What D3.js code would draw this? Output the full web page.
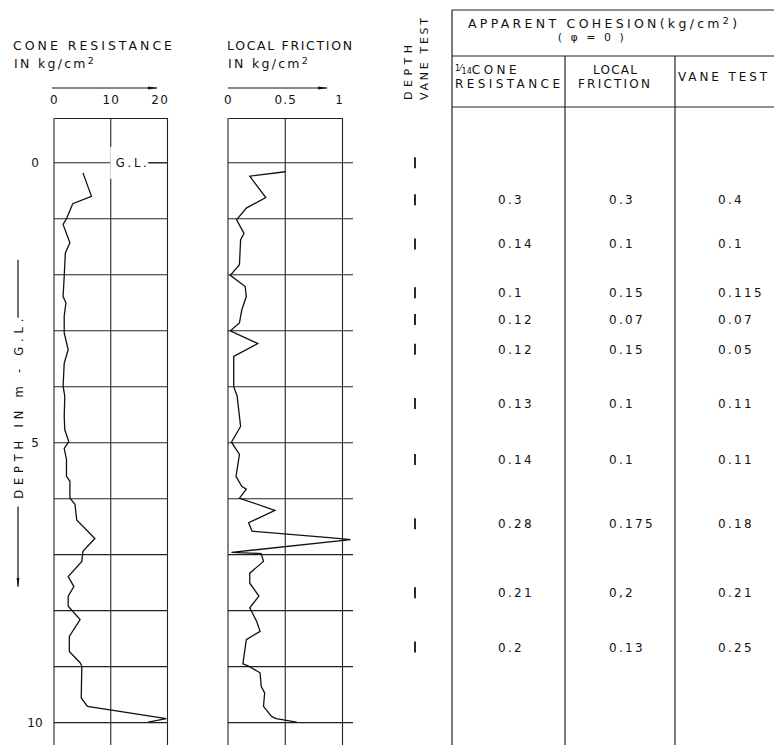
<!DOCTYPE html>
<html>
<head>
<meta charset="utf-8">
<script src="https://cdn.jsdelivr.net/npm/d3@7"></script>
<style>
  body { margin: 0; background: #fff; }
  svg text { font-family: "DejaVu Sans", sans-serif; fill: #111; }
</style>
</head>
<body>
<script>
// Static cone penetration log: cone resistance + local friction profiles
// and a small table of apparent cohesion at the vane test depths

// cone resistance profile (depth in m below G.L., value in kg/cm2)
const coneDepth = [0.18, 0.6, 0.73, 1.0, 1.1, 1.43, 1.61, 2.03, 2.39, 2.5, 2.74, 3.04, 3.34, 3.58,
  3.99, 4.17, 4.53, 4.77, 4.98, 5.1, 5.3, 5.6, 5.69, 5.99, 6.1, 6.38, 6.71, 6.94, 7.12, 7.39,
  7.57, 7.74, 7.92, 8.16, 8.46, 8.73, 8.93, 8.99, 9.56, 9.71, 9.93, 9.99];
const coneValue = [5.1, 6.6, 3.3, 2.2, 1.6, 2.8, 2.0, 1.8, 1.6, 2.1, 1.8, 1.8, 2.5, 1.8,
  1.6, 1.9, 1.8, 1.9, 2.6, 1.8, 2.2, 2.2, 2.8, 2.8, 3.7, 4.0, 7.2, 5.1, 4.9, 2.5,
  3.5, 2.5, 2.5, 4.6, 2.7, 2.7, 4.6, 4.9, 4.8, 5.9, 19.8, 16.6];

// local friction profile (depth in m, value in kg/cm2)
const frictionDepth = [0.16, 0.24, 0.62, 0.81, 1.02, 1.26, 1.38, 1.82, 2.01, 2.21, 2.39, 2.63,
  2.86, 3.0, 3.23, 3.46, 4.0, 4.17, 4.35, 4.71, 4.99, 5.21, 5.6, 5.78, 5.83, 5.99, 6.21, 6.43,
  6.58, 6.7, 6.73, 6.96, 6.98, 7.12, 7.33, 7.51, 7.74, 7.95, 8.19, 8.37, 8.52, 8.95, 8.99,
  9.11, 9.35, 9.47, 9.71, 9.89, 9.93, 9.99];
const frictionValue = [0.5, 0.19, 0.33, 0.16, 0.075, 0.14, 0.11, 0.10, 0.02, 0.15, 0.16, 0.12,
  0.10, 0.02, 0.26, 0.05, 0.05, 0.08, 0.09, 0.11, 0.03, 0.10, 0.07, 0.12, 0.16, 0.10, 0.41, 0.18,
  0.21, 0.91, 1.07, 0.03, 0.29, 0.31, 0.19, 0.19, 0.27, 0.19, 0.25, 0.28, 0.16, 0.13, 0.18,
  0.28, 0.29, 0.32, 0.31, 0.38, 0.42, 0.6];

// vane test depths and apparent cohesion (first mark at G.L. has no readings)
const vaneDepth = [0, 0.66, 1.45, 2.32, 2.8, 3.33, 4.3, 5.3, 6.45, 7.68, 8.65];
const cohesionCone = [null, "0.3", "0.14", "0.1", "0.12", "0.12", "0.13", "0.14", "0.28", "0.21", "0.2"];
const cohesionFriction = [null, "0.3", "0.1", "0.15", "0.07", "0.15", "0.1", "0.1", "0.175", "0,2", "0.13"];
const cohesionVane = [null, "0.4", "0.1", "0.115", "0.07", "0.05", "0.11", "0.11", "0.18", "0.21", "0.25"];

// tick labels
const coneTicks = [0, 10, 20];
const frictionTicks = [0, 0.5, 1];
const depthTicks = [0, 5, 10];
const gridDepths = d3.range(0, 11);

const width = 774, height = 745;
let svg = null;
let y, xCone, xFric;

appendSvg("body");
setupScales();
appendArrowMarker();
appendProfileChart(xCone, coneTicks, coneDepth, coneValue, 167, d3.format("d"));
appendProfileChart(xFric, frictionTicks, frictionDepth, frictionValue, 353, d => d === 0.5 ? "0.5" : d);
appendGroundLevelLabel();
appendTitles();
appendDepthAxis();
appendVaneMarks();
appendTable();

function appendSvg(domElement) {
  svg = d3.select(domElement).append("svg")
    .attr("width", width)
    .attr("height", height);
}

function setupScales() {
  // 1 m of depth = 56 px, G.L. at y = 163
  y = d3.scaleLinear().domain([-0.8, 10.4]).range([118, 745]);
  xCone = d3.scaleLinear().domain([0, 20]).range([54, 167.5]);
  xFric = d3.scaleLinear().domain([0, 1]).range([228, 342.5]);
}

function appendArrowMarker() {
  const defs = svg.append("defs");
  defs.append("marker")
    .attr("id", "arrow")
    .attr("viewBox", "0 0 10 6")
    .attr("refX", 9).attr("refY", 3)
    .attr("markerWidth", 10).attr("markerHeight", 6)
    .attr("markerUnits", "userSpaceOnUse")
    .attr("orient", "auto")
    .append("path")
    .attr("d", "M0,1.5 L10,3 L0,4.5 Z")
    .attr("fill", "#111");
}

function appendProfileChart(x, ticks, depths, values, gridEnd, fmt) {
  const g = svg.append("g");

  // horizontal grid every metre
  g.selectAll(".hgrid")
    .data(gridDepths)
    .enter().append("line")
    .attr("x1", x.range()[0]).attr("x2", gridEnd)
    .attr("y1", d => y(d)).attr("y2", d => y(d))
    .attr("stroke", "#222").attr("stroke-width", 1.1);

  // vertical lines at tick values
  g.selectAll(".vgrid")
    .data(ticks)
    .enter().append("line")
    .attr("class", "vgrid")
    .attr("x1", d => x(d)).attr("x2", d => x(d))
    .attr("y1", y(-0.8)).attr("y2", height)
    .attr("stroke", "#222").attr("stroke-width", 1.1);

  // top axis = top border of the box
  const axis = g.append("g")
    .attr("transform", `translate(0, ${y(-0.8)})`)
    .call(d3.axisTop(x).tickValues(ticks).tickFormat(fmt).tickSize(0).tickPadding(14));
  axis.select(".domain").attr("stroke", "#222").attr("stroke-width", 1.1);
  axis.selectAll("text")
    .style("font-family", "DejaVu Sans")
    .attr("font-size", 12)
    .attr("fill", "#111")
    .attr("letter-spacing", 1.2)
    .attr("text-anchor", d => d === ticks[ticks.length - 1] ? "end" : "middle")
    .attr("dx", d => d === ticks[ticks.length - 1] ? 1 : 0);

  const line = d3.line()
    .x((d, i) => x(values[i]))
    .y(d => y(d));

  g.append("path")
    .datum(depths)
    .attr("d", line)
    .attr("fill", "none")
    .attr("stroke", "#111")
    .attr("stroke-width", 1.3)
    .attr("stroke-linejoin", "miter");
}

function appendGroundLevelLabel() {
  // the "G.L." label sits on the 0 m line, breaking the grid
  svg.append("rect")
    .attr("x", xCone(10) - 0.5).attr("y", y(0) - 16)
    .attr("width", 39).attr("height", 32)
    .attr("fill", "#fff");
  svg.append("line")
    .attr("x1", xCone(10) + 37).attr("x2", xCone(20))
    .attr("y1", y(0)).attr("y2", y(0))
    .attr("stroke", "#222").attr("stroke-width", 1.1);
  svg.append("text")
    .attr("x", xCone(10) + 5).attr("y", y(0) + 4)
    .attr("font-size", 11.5)
    .attr("textLength", 31).attr("lengthAdjust", "spacing")
    .text("G.L.");
}

function appendTitles() {
  const titles = [
    {x: 13, line1: "CONE RESISTANCE", len: 159, x1: 52, x2: 157},
    {x: 227, line1: "LOCAL FRICTION", len: 125, x1: 228, x2: 327}
  ];
  titles.forEach(t => {
    svg.append("text")
      .attr("x", t.x).attr("y", 50)
      .attr("font-size", 12.5)
      .attr("textLength", t.len).attr("lengthAdjust", "spacing")
      .text(t.line1);
    const unit = svg.append("text")
      .attr("x", t.x + 1).attr("y", 68)
      .attr("font-size", 12.5)
      .attr("letter-spacing", 2.3);
    unit.append("tspan").text("IN kg/cm");
    unit.append("tspan").attr("dy", -4).attr("font-size", 9.5).text("2");
    svg.append("line")
      .attr("x1", t.x1).attr("x2", t.x2)
      .attr("y1", 88).attr("y2", 88)
      .attr("stroke", "#111").attr("stroke-width", 1.2)
      .attr("marker-end", "url(#arrow)");
  });
}

function appendDepthAxis() {
  const axis = svg.append("g")
    .attr("transform", `translate(${xCone(0)}, 0)`)
    .call(d3.axisLeft(y).tickValues(depthTicks).tickSize(0).tickPadding(19));
  axis.select(".domain").remove();
  axis.selectAll("text")
    .style("font-family", "DejaVu Sans")
    .attr("font-size", 12)
    .attr("fill", "#111")
    .attr("text-anchor", "middle");

  // vertical title with arrow pointing down
  svg.append("text")
    .attr("transform", `translate(23, ${y(6.0)}) rotate(-90)`)
    .attr("font-size", 11.5)
    .attr("textLength", 180).attr("lengthAdjust", "spacing")
    .text("DEPTH IN m - G.L.");
  svg.append("line")
    .attr("x1", 18).attr("x2", 18)
    .attr("y1", y(1.73)).attr("y2", y(2.77))
    .attr("stroke", "#111").attr("stroke-width", 1.2);
  svg.append("line")
    .attr("x1", 18).attr("x2", 18)
    .attr("y1", y(6.14)).attr("y2", y(7.57))
    .attr("stroke", "#111").attr("stroke-width", 1.2)
    .attr("marker-end", "url(#arrow)");
}

function appendVaneMarks() {
  svg.append("text")
    .attr("transform", "translate(412, 100) rotate(-90)")
    .attr("font-size", 11)
    .attr("textLength", 55).attr("lengthAdjust", "spacing")
    .text("DEPTH");
  svg.append("text")
    .attr("transform", "translate(428, 100) rotate(-90)")
    .attr("font-size", 11)
    .attr("textLength", 82).attr("lengthAdjust", "spacing")
    .text("VANE TEST");

  svg.selectAll(".vane")
    .data(vaneDepth)
    .enter().append("line")
    .attr("x1", 415).attr("x2", 415)
    .attr("y1", d => y(d) - 5.5).attr("y2", d => y(d) + 5.5)
    .attr("stroke", "#111").attr("stroke-width", 1.8);
}

function appendTable() {
  const left = 452, c1 = 565, c2 = 675, right = width;
  const g = svg.append("g");
  const stroke = l => l.attr("stroke", "#222").attr("stroke-width", 1.2);

  // frame
  [10, 56, 107].forEach(yy => {
    g.append("line").attr("x1", left).attr("x2", right)
      .attr("y1", yy).attr("y2", yy).call(stroke);
  });
  g.append("line").attr("x1", left).attr("x2", left)
    .attr("y1", 10).attr("y2", height).call(stroke);
  [c1, c2].forEach(xx => {
    g.append("line").attr("x1", xx).attr("x2", xx)
      .attr("y1", 56).attr("y2", height).call(stroke);
  });

  // header row 1
  const h1 = g.append("text")
    .attr("x", 468).attr("y", 28)
    .attr("font-size", 12.5)
    .attr("letter-spacing", 3.3);
  h1.append("tspan").text("APPARENT COHESION(kg/cm");
  h1.append("tspan").attr("dy", -4).attr("font-size", 9.5).text("2");
  h1.append("tspan").attr("dy", 4).text(")");
  g.append("text")
    .attr("x", 592).attr("y", 41)
    .attr("text-anchor", "middle")
    .attr("font-size", 11)
    .attr("letter-spacing", 2.5)
    .text("( φ = 0 )");

  // header row 2
  const h2 = g.append("text")
    .attr("x", 455).attr("y", 74)
    .attr("font-size", 12);
  h2.append("tspan").attr("dy", -3).attr("font-size", 8).text("1");
  h2.append("tspan").attr("font-size", 9).text("⁄");
  h2.append("tspan").attr("dy", 3).attr("font-size", 8).text("14");
  h2.append("tspan").attr("dy", 0).attr("letter-spacing", 3.5).text("CONE");
  g.append("text").attr("x", 455).attr("y", 88)
    .attr("font-size", 12)
    .attr("textLength", 105).attr("lengthAdjust", "spacing")
    .text("RESISTANCE");
  g.append("text").attr("x", 593).attr("y", 74)
    .attr("font-size", 12)
    .attr("textLength", 44).attr("lengthAdjust", "spacing")
    .text("LOCAL");
  g.append("text").attr("x", 578).attr("y", 88)
    .attr("font-size", 12)
    .attr("textLength", 72).attr("lengthAdjust", "spacing")
    .text("FRICTION");
  g.append("text").attr("x", 678).attr("y", 81)
    .attr("font-size", 12)
    .attr("textLength", 89).attr("lengthAdjust", "spacing")
    .text("VANE TEST");

  // values, one row per vane test depth
  const cols = [
    {x: 498, values: cohesionCone},
    {x: 609, values: cohesionFriction},
    {x: 718, values: cohesionVane}
  ];
  cols.forEach(c => {
    g.selectAll(null)
      .data(vaneDepth.map((d, i) => ({d: d, v: c.values[i]})).filter(r => r.v !== null))
      .enter().append("text")
      .attr("x", c.x)
      .attr("y", r => y(r.d) + 4.5)
      .attr("font-size", 12)
      .attr("letter-spacing", 2.3)
      .text(r => r.v);
  });
}
</script>
</body>
</html>
